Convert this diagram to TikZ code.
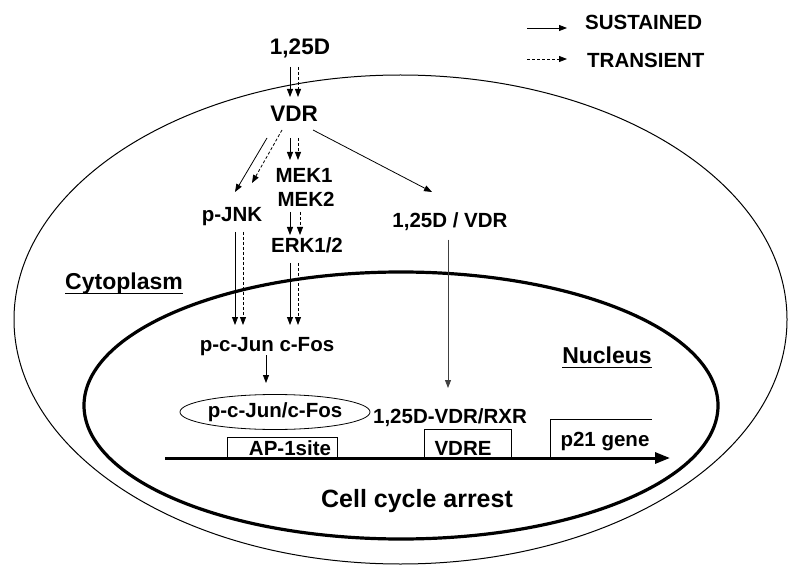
\documentclass[tikz,border=0pt]{standalone}
\usepackage{fontspec}
\setmainfont{Liberation Sans}
\usetikzlibrary{arrows.meta,calc,shapes.geometric}
\begin{document}
\begin{tikzpicture}[x=1pt,y=-1pt,
  lbl/.style={inner sep=0pt, anchor=base, font=\fontsize{20.5}{24}\selectfont\bfseries},
  biglbl/.style={lbl, font=\fontsize{22.5}{26}\selectfont\bfseries},
  seclbl/.style={lbl, font=\fontsize{23}{27}\selectfont\bfseries},
  uline/.style={line width=1.8pt},
  sus/.style={-{Triangle[length=8pt,width=6pt]}, line width=0.8pt},
  tra/.style={sus, dash pattern=on 3pt off 2pt},
  gene/.style={line width=0.8pt},
  membrane/.style={line width=1pt},
  nucleus/.style={line width=3.2pt}]
\useasboundingbox (0,0) rectangle (800,577);

% cell and nucleus
\draw[membrane] (400.5,319.5) ellipse [x radius=386.5, y radius=244.5];
\draw[nucleus] (401,405.5) ellipse [x radius=317, y radius=133.5];

% legend
\coordinate (ls1) at (527,28); \coordinate (le1) at (567,28);
\coordinate (ls2) at (527,59); \coordinate (le2) at (567,59);
\draw[sus] (ls1) -- (le1);
\draw[tra] (ls2) -- (le2);
\node[lbl, anchor=base west] (sustxt) at (585,30) {SUSTAINED};
\node[lbl, anchor=base west] (tratxt) at (587,68) {TRANSIENT};

% labels
\node[biglbl] (d) at (300,55) {1,25D};
\node[biglbl] (vdr) at (294,122) {VDR};
\node[lbl] (mek1) at (304,182.5) {MEK1};
\node[lbl] (mek2) at (306,207) {MEK2};
\node[lbl] (pjnk) at (232,222) {p-JNK};
\node[lbl] (erk) at (307,253) {ERK1/2};
\node[lbl] (vdrc) at (450,228) {1,25D / VDR};
\node[lbl] (jf) at (267,351) {p-c-Jun c-Fos};
\node[lbl] (rxr) at (450,423) {1,25D-VDR/RXR};
\node[seclbl] (cyt) at (124,289) {Cytoplasm};
\node[seclbl] (nuc) at (607,363) {Nucleus};
\draw[uline] ([yshift=-4.5pt]cyt.base west) -- ([yshift=-4.5pt]cyt.base east);
\draw[uline] ([yshift=-4.5pt]nuc.base west) -- ([yshift=-4.5pt]nuc.base east);
\node[draw, line width=0.8pt, ellipse, minimum width=174pt, minimum height=35pt, inner sep=0pt,
      font=\fontsize{20.5}{24}\selectfont\bfseries] (cplx) at (275,412) {p-c-Jun/c-Fos};

% gene
\draw[gene] (227,458) |- (337,437) -- (337,458);
\draw[gene] (424,458) |- (511,429) -- (511,458);
\draw[gene] (550,458) |- (652,419);
\node[lbl] (ap1) at (290,455) {AP-1site};
\node[lbl] (vdre) at (463,455) {VDRE};
\node[lbl] (p21) at (605,446) {p21 gene};
\coordinate (gs) at (165,458); \coordinate (ge) at (670,458);
\draw[line width=3pt, -{Triangle[length=15pt,width=11pt]}] (gs) -- (ge);
\node[lbl, font=\fontsize{25}{29}\selectfont\bfseries] (cca) at (417,507) {Cell cycle arrest};

% arrows
\draw[sus] ($(d.base)+(-10,12)$) -- ($(vdr.base)+(-4,-25)$);
\draw[tra] ($(d.base)+(-2,12)$) -- ($(vdr.base)+(4,-25)$);

\draw[sus] ($(vdr.base)+(-27,16)$) -- ($(pjnk.base)+(3,-30)$);
\draw[tra] ($(vdr.base)+(-12,8)$) -- ($(pjnk.base)+(20,-39)$);

\draw[sus] ($(vdr.base)+(-4,16)$) -- ($(mek1.base)+(-14,-22.5)$);
\draw[tra] ($(vdr.base)+(4,16)$) -- ($(mek1.base)+(-6,-22.5)$);

\draw[sus] ($(mek2.base)+(-16,5)$) -- ($(erk.base)+(-17,-18)$);
\draw[tra] ($(mek2.base)+(-6,5)$) -- ($(erk.base)+(-7,-18)$);

\draw[sus] ($(erk.base)+(-17,10)$) -- ($(jf.base)+(23,-26)$);
\draw[tra] ($(erk.base)+(-9,10)$) -- ($(jf.base)+(31,-26)$);

\draw[sus] ($(pjnk.base)+(3,10)$) -- ($(jf.base)+(-32,-26)$);
\draw[tra] ($(pjnk.base)+(11,10)$) -- ($(jf.base)+(-24,-26)$);

\draw[sus] ($(vdr.base)+(19,8)$) -- ($(vdrc.base)+(-18,-36)$);
\draw[sus, draw=black!75, fill=black] ($(vdrc.base)+(-2,12)$) -- ($(rxr.base)+(-2,-35)$);

\draw[sus] ($(jf.base)+(-1,4)$) -- ($(cplx.center)+(-9,-29)$);
\end{tikzpicture}
\end{document}
